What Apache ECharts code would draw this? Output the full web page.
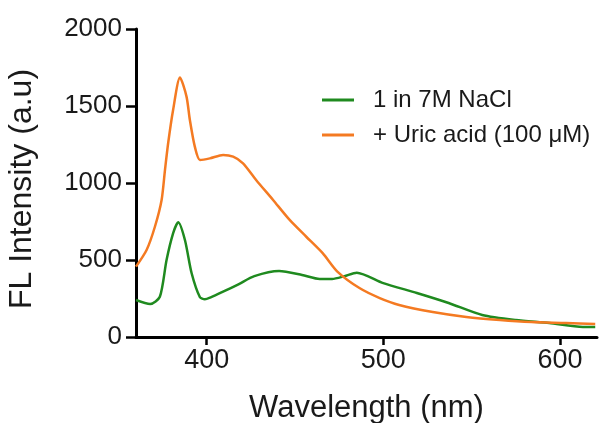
<!DOCTYPE html>
<html>
<head>
<meta charset="utf-8">
<script src="https://cdn.jsdelivr.net/npm/echarts@6/dist/echarts.min.js"></script>
<style>
  html, body { margin: 0; padding: 0; background: #ffffff; }
  #chart { width: 603px; height: 423px; }
</style>
</head>
<body>
<div id="chart"></div>
<script>
// Emission spectra: wavelength (nm) vs fluorescence intensity (a.u.)
const seriesNames = ['1 in 7M NaCl', '+ Uric acid (100 \u03bcM)'];

const naclWavelength = [360, 368, 373.5, 377.3, 381, 383.9, 387.7, 391.5, 396.2, 399, 402, 409.3, 418, 427, 441, 454, 464, 471, 478, 485, 500, 519, 537, 556, 575, 594, 613, 620];
const naclIntensity  = [240, 214, 261, 500, 673, 745, 630, 414, 258, 245, 256, 294, 342, 395, 428, 403, 377, 377, 395, 418, 350, 286, 221, 143, 110, 91, 65, 65];

const uricWavelength = [360, 366, 370.7, 374.5, 376.4, 378.2, 381, 384.9, 388.6, 390.5, 393.3, 396.2, 401.8, 409.3, 415, 420.6, 428, 437.6, 447, 456.4, 465.8, 474, 486.5, 498, 509, 528, 547, 566, 584, 603.5, 620];
const uricIntensity  = [457, 565, 716, 890, 1084, 1258, 1474, 1685, 1561, 1409, 1236, 1150, 1160, 1182, 1171, 1128, 1020, 890, 760, 651, 543, 425, 318, 253, 208, 162, 130, 110, 97, 91, 84];

const xTicks = [400, 500, 600];

const pairs = (xs, ys) => xs.map((x, i) => [x, ys[i]]);

const FONT = '"Liberation Sans", Arial, sans-serif';
const INK = '#1a1a1a';

const chart = echarts.init(document.getElementById('chart'), null, { renderer: 'canvas' });

chart.setOption({
  backgroundColor: '#ffffff',
  animation: false,
  grid: { left: 136, right: 6, top: 29, bottom: 86, containLabel: false, outerBoundsMode: 'none' },
  legend: {
    orient: 'vertical',
    left: 317,
    top: 81,
    itemWidth: 32,
    itemHeight: 3,
    itemGap: 7,
    icon: 'rect',
    textStyle: { fontFamily: FONT, fontSize: 24, color: INK, lineHeight: 28, padding: [0, 0, 0, 14] },
    data: seriesNames
  },
  xAxis: {
    type: 'value',
    min: 360,
    max: 621,
    interval: 100,
    name: 'Wavelength (nm)',
    nameLocation: 'middle',
    nameGap: 56,
    nameTextStyle: { fontFamily: FONT, fontSize: 31, color: INK },
    axisLine: { show: true, lineStyle: { color: '#000', width: 3 } },
    axisTick: { show: true, length: 8, lineStyle: { color: '#000', width: 2.5 }, customValues: xTicks },
    axisLabel: { fontFamily: FONT, fontSize: 27, color: INK, margin: 10, customValues: xTicks, formatter: v => String(v) },
    splitLine: { show: false }
  },
  yAxis: {
    type: 'value',
    min: 0,
    max: 2000,
    interval: 500,
    name: 'FL Intensity (a.u)',
    nameLocation: 'middle',
    nameGap: 98,
    nameRotate: 90,
    nameTextStyle: { fontFamily: FONT, fontSize: 32, color: INK, padding: [0, 12, 0, 0] },
    axisLine: { show: true, lineStyle: { color: '#000', width: 3 } },
    axisTick: { show: true, length: 10, lineStyle: { color: '#000', width: 2.5 } },
    axisLabel: { fontFamily: FONT, fontSize: 26, color: INK, margin: 14, formatter: v => String(v) },
    splitLine: { show: false }
  },
  series: [
    {
      name: seriesNames[0],
      type: 'line',
      data: pairs(naclWavelength, naclIntensity),
      smooth: 0.25,
      showSymbol: false,
      color: '#1f8a1f',
      lineStyle: { width: 2.5, color: '#1f8a1f' }
    },
    {
      name: seriesNames[1],
      type: 'line',
      data: pairs(uricWavelength, uricIntensity),
      smooth: 0.25,
      showSymbol: false,
      color: '#f47a22',
      lineStyle: { width: 2.5, color: '#f47a22' }
    }
  ]
});
</script>
</body>
</html>
